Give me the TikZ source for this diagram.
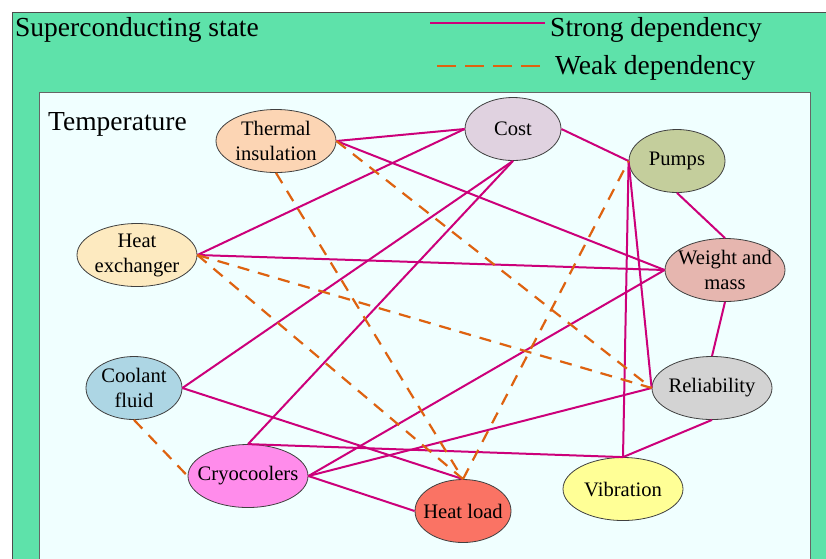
\documentclass[tikz,border=0pt]{standalone}
\usepackage{fontspec}
\setmainfont{Liberation Serif}
\usetikzlibrary{shapes.geometric}
\definecolor{stateGreen}{RGB}{94,226,170}
\definecolor{tempBg}{RGB}{240,255,255}
\definecolor{strongDep}{RGB}{204,0,122}
\definecolor{weakDep}{RGB}{222,98,16}
\definecolor{cThermal}{RGB}{252,213,180}
\definecolor{cHex}{RGB}{253,234,192}
\definecolor{cCost}{RGB}{224,210,224}
\definecolor{cPumps}{RGB}{196,206,156}
\definecolor{cWeight}{RGB}{230,182,175}
\definecolor{cCoolant}{RGB}{173,214,228}
\definecolor{cCryo}{RGB}{255,140,235}
\definecolor{cHeatload}{RGB}{250,115,100}
\definecolor{cReliab}{RGB}{211,211,211}
\definecolor{cVibration}{RGB}{255,255,150}
\tikzset{
  factor/.style={ellipse, draw=black!75, line width=0.8pt, inner xsep=-8pt, inner ysep=0pt,
                 minimum width=120pt, minimum height=63pt, align=center,
                 fill=#1, font=\fontsize{20.6}{25}\selectfont},
  strong/.style={line width=2pt, draw=strongDep},
  weak/.style={line width=2.2pt, draw=weakDep, dash pattern=on 12pt off 9pt},
  biglabel/.style={font=\fontsize{27.5}{32}\selectfont, inner sep=0pt, anchor=base west},
}

\begin{document}
\begin{tikzpicture}[x=1pt,y=-1pt]
  \useasboundingbox (0,0) rectangle (826,558);
  \draw[draw=black!70, fill=stateGreen, line width=1pt] (12,12) rectangle (840,575);
  \draw[draw=black!60, fill=tempBg, line width=0.8pt] (39,92) rectangle (810,575);

  % Labels and legend
  \node[biglabel] (statelbl) at (15,36) {Superconducting state};
  \node[biglabel] (templbl) at (48,130) {Temperature};
  \node[biglabel] (strongtxt) at (550,36) {Strong dependency};
  \node[biglabel] (weaktxt) at (555,74) {Weak dependency};
  \coordinate (strongA) at (430,23);
  \coordinate (strongB) at (545,23);
  \coordinate (weakA) at (437,66);
  \coordinate (weakB) at (545,66);
  \draw[strong] (strongA) -- (strongB);
  \draw[weak, dash pattern=on 19pt off 9pt] (weakA) -- (weakB);

  % Factors
  \node[factor=cThermal] (thermal) at (276,141) {Thermal\\insulation};
  \node[factor=cHex] (hex) at (137,255) {Heat\\exchanger};
  \node[factor=cCost, minimum width=96pt] (cost) at (513,129) {Cost};
  \node[factor=cPumps, minimum width=96pt] (pumps) at (677,161) {Pumps};
  \node[factor=cWeight] (weight) at (725,270) {Weight and\\mass};
  \node[factor=cCoolant, minimum width=96pt] (coolant) at (134,388) {Coolant\\fluid};
  \node[factor=cCryo] (cryo) at (248,476) {Cryocoolers};
  \node[factor=cHeatload, minimum width=96pt] (heatload) at (463,511) {Heat load};
  \node[factor=cReliab] (reliab) at (712,388) {Reliability};
  \node[factor=cVibration] (vibration) at (623,489) {Vibration};

  % Strong dependencies
  \foreach \a/\b in {thermal.east/cost.west, thermal.east/weight.west,
      hex.east/cost.west, hex.east/weight.west,
      coolant.east/cost.south, coolant.east/heatload.north,
      cryo.north/cost.south, cryo.north/vibration.north,
      cryo.east/weight.west, cryo.east/reliab.west, cryo.east/heatload.west,
      cost.east/pumps.west, pumps.south/weight.north, weight.south/reliab.north,
      reliab.south/vibration.north, pumps.west/vibration.north, pumps.west/reliab.west}
    \draw[strong] (\a) -- (\b);

  % Weak dependencies
  \foreach \a/\b in {thermal.south/heatload.north, thermal.east/reliab.west,
      hex.east/reliab.west, hex.east/heatload.north,
      coolant.south/cryo.west, heatload.north/pumps.west}
    \draw[weak] (\a) -- (\b);
\end{tikzpicture}
\end{document}
